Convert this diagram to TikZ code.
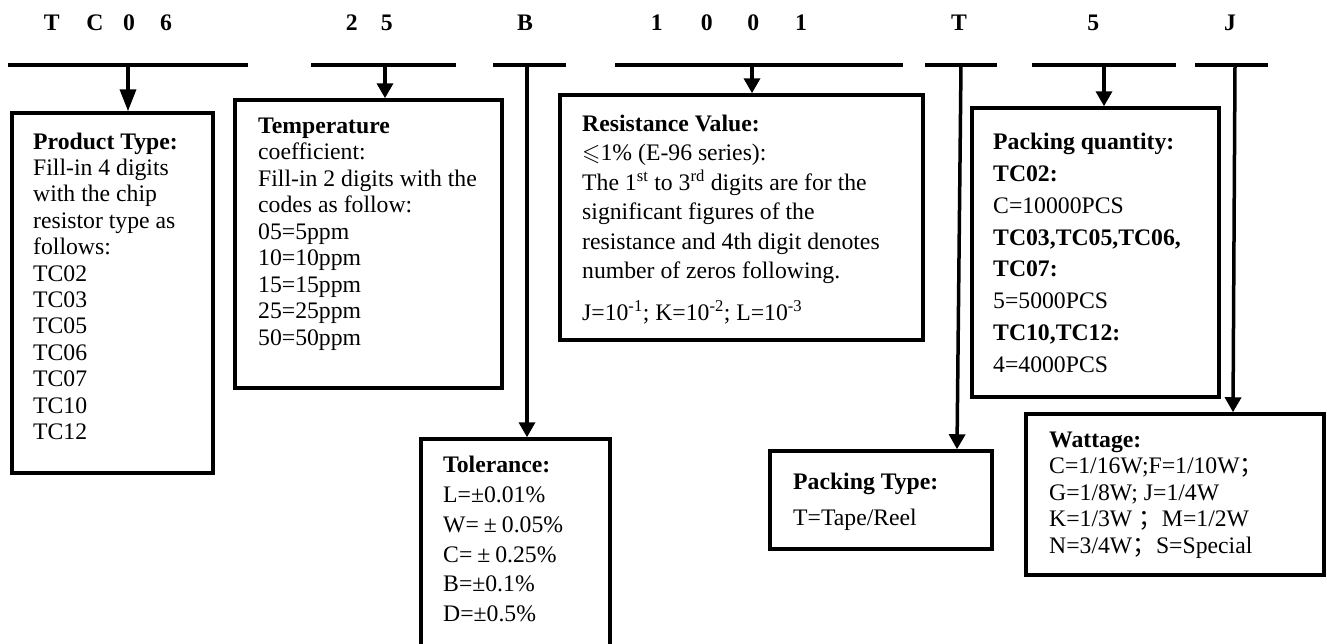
\documentclass[tikz,border=0pt]{standalone}
\usepackage{fontspec}
\usepackage{amssymb}
\setmainfont{Liberation Serif}
\newfontfamily\cjk{Noto Sans CJK SC}
\usetikzlibrary{arrows.meta,calc}
\tikzset{
  bar/.style={fill=black,draw=none,inner sep=0pt,minimum height=4.5pt},
  box/.style={draw=black,line width=3.5pt,inner sep=0pt,fill=none},
  code/.style={font=\fontsize{23.7}{26}\selectfont\bfseries,anchor=base,inner sep=0pt},
  txt/.style={anchor=north west,inner sep=0pt,align=left},
  arr/.style={line width=3.5pt,-{Triangle[length=15pt,width=16pt]}},
  arrbig/.style={line width=3.5pt,-{Triangle[length=22pt,width=16pt]}},
}
\newcommand{\fs}[1]{\fontsize{23.7}{#1}\selectfont}
\newcommand{\pmw}{\hspace{5pt}±\hspace{5pt}}
\begin{document}
\begin{tikzpicture}[x=1pt,y=-1pt]
\useasboundingbox (0,0) rectangle (1327,643);
\clip (0,0) rectangle (1327,643);
% code letters
\node[code] (c1) at (51.7,30.5) {T};
\node[code] (c2) at (95,30.5) {C};
\node[code] (c3) at (129,30.5) {0};
\node[code] (c4) at (166,30.5) {6};
\node[code] (c5) at (351.7,30.5) {2};
\node[code] (c6) at (386.7,30.5) {5};
\node[code] (c7) at (525,30.5) {B};
\node[code] (c8) at (656.7,30.5) {1};
\node[code] (c9) at (706.7,30.5) {0};
\node[code] (c10) at (753.3,30.5) {0};
\node[code] (c11) at (801,30.5) {1};
\node[code] (c12) at (959,30.5) {T};
\node[code] (c13) at (1093.3,30.5) {5};
\node[code] (c14) at (1230,30.5) {J};
% bars
\node[bar,minimum width=240pt] (bar1) at (128,65) {};
\node[bar,minimum width=145pt] (bar2) at (383.5,65) {};
\node[bar,minimum width=73pt] (bar3) at (529.5,65) {};
\node[bar,minimum width=288pt] (bar4) at (759,65) {};
\node[bar,minimum width=72pt] (bar5) at (961,65) {};
\node[bar,minimum width=144pt] (bar6) at (1104,65) {};
\node[bar,minimum width=73pt] (bar7) at (1231.5,65) {};
% boxes
\node[box,minimum width=201pt,minimum height=360pt] (b1) at (112.5,293) {};
\node[box,minimum width=267pt,minimum height=288pt] (b2) at (368.5,244) {};
\node[box,minimum width=363pt,minimum height=245pt] (b3) at (741.5,217.5) {};
\node[box,minimum width=247pt,minimum height=289pt] (b4) at (1095.5,252.5) {};
\node[box,minimum width=189pt,minimum height=221pt] (b5) at (515.5,549.5) {};
\node[box,minimum width=222pt,minimum height=98pt] (b6) at (881,500) {};
\node[box,minimum width=298pt,minimum height=161pt] (b7) at (1175,494.5) {};
% connectors
\coordinate (t1) at (128,65);
\coordinate (t2) at (385,65);
\coordinate (t3) at (527,65);
\coordinate (t4) at (752,65);
\coordinate (t5) at (961,65);
\coordinate (t6) at (1104,65);
\coordinate (t7) at (1235,65);
\coordinate (e5) at ($(b6.north)+(76,0)$);
\coordinate (e7) at ($(b7.north)+(58,0)$);
\draw[arrbig] (t1) -- (t1 |- b1.north);
\draw[arr] (t2) -- (t2 |- b2.north);
\draw[arr] (t3) -- (t3 |- b5.north);
\draw[arr] (t4) -- (t4 |- b3.north);
\draw[arr] (t5) -- (e5);
\draw[arr] (t6) -- (t6 |- b4.north);
\draw[arr] (t7) -- (e7);
% texts
\node[txt,font=\fs{26.4}] (x1) at (33,132.5) {\textbf{Product Type:}\\Fill-in 4 digits\\with the chip\\resistor type as\\follows:\\TC02\\TC03\\TC05\\TC06\\TC07\\TC10\\TC12};
\node[txt,font=\fs{26.5}] (x2) at (258,117.5) {\textbf{Temperature}\\coefficient:\\Fill-in 2 digits with the\\codes as follow:\\05=5ppm\\10=10ppm\\15=15ppm\\25=25ppm\\50=50ppm};
\node[txt,font=\fs{29.5}] (x3) at (582,114.5) {\textbf{Resistance Value:}\\$\leqslant$1\% (E-96 series):\\The 1\textsuperscript{st} to 3\textsuperscript{rd} digits are for the\\significant figures of the\\resistance and 4th digit denotes\\number of zeros following.\\[12pt]J=10\textsuperscript{-1}; K=10\textsuperscript{-2}; L=10\textsuperscript{-3}};
\node[txt,font=\fs{31.8}] (x4) at (993,133) {\textbf{Packing quantity:}\\\textbf{TC02:}\\C=10000PCS\\\textbf{TC03,TC05,TC06,}\\\textbf{TC07:}\\5=5000PCS\\\textbf{TC10,TC12:}\\4=4000PCS};
\node[txt,font=\fs{29.8}] (x5) at (443,456) {\textbf{Tolerance:}\\L=±0.01\%\\W=\pmw0.05\%\\C=\pmw0.25\%\\B=±0.1\%\\D=±0.5\%};
\node[txt,font=\fs{36}] (x6) at (793,473) {\textbf{Packing Type:}\\T=Tape/Reel};
\node[txt,font=\fs{26.5}] (x7) at (1049,431.5) {\textbf{Wattage:}\\C=1/16W;F=1/10W{\cjk ；}\\G=1/8W; J=1/4W\\K=1/3W {\cjk ；}M=1/2W\\N=3/4W{\cjk ；}S=Special};
\end{tikzpicture}
\end{document}
